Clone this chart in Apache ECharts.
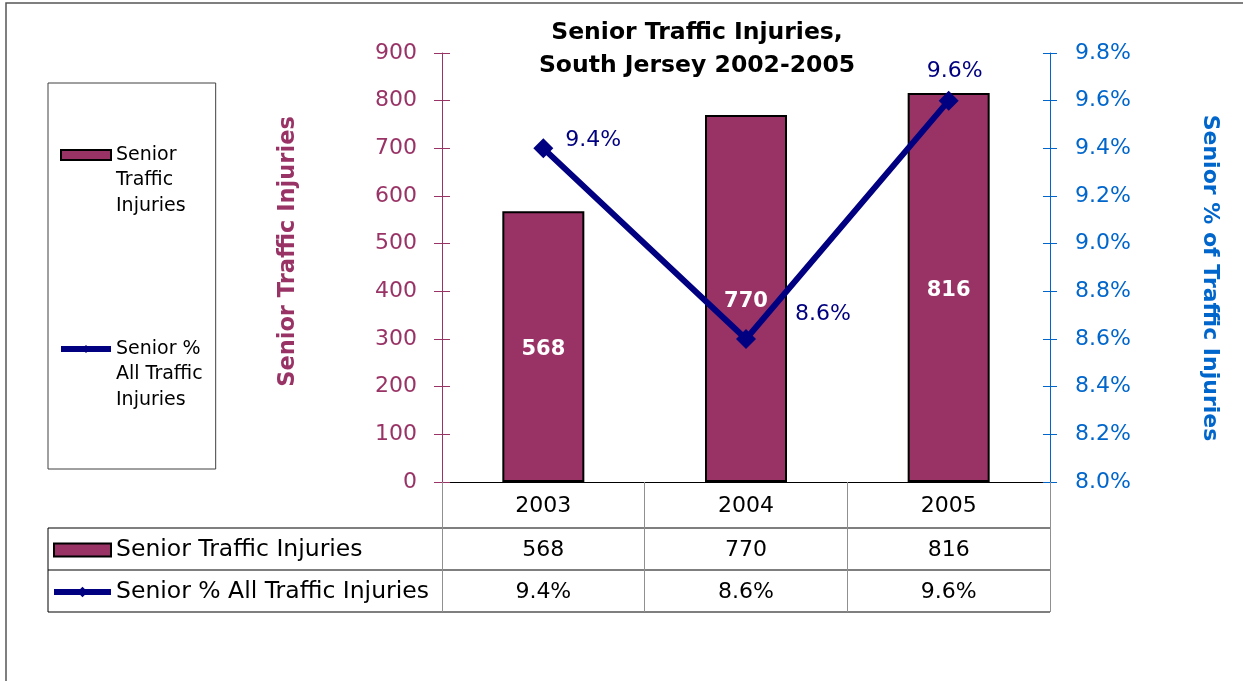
<!DOCTYPE html>
<html><head><meta charset="utf-8">
<script src="https://cdn.jsdelivr.net/npm/echarts@6/dist/echarts.min.js"></script>
<style>html,body{margin:0;padding:0;background:#fff}#c{width:1243px;height:681px}</style>
</head><body><div id="c"></div>
<script>
// ---- data ----
const categories = ['2003', '2004', '2005'];
const injuries = [568, 770, 816];
const seniorPct = [9.4, 8.6, 9.6];
const seriesNames = ['Senior Traffic Injuries', 'Senior % All Traffic Injuries'];
const legendBoxLabels = ['\n\nSenior\nTraffic\nInjuries', '\n\nSenior %\nAll Traffic\nInjuries'];
const leftAxisName = 'Senior Traffic Injuries';
const rightAxisName = 'Senior % of Traffic Injuries';
const titleText = 'Senior Traffic Injuries,\nSouth Jersey 2002-2005';

// ---- layout / style ----
const FONT = 'DejaVu Sans';
const MAROON = '#993366', BLUE = '#0066CC', NAVY = '#000080';
const G = {left: 442, top: 53, width: 608, height: 429};
const gBottom = G.top + G.height;
const tableLeft = 48, tableRight = G.left + G.width;
const rowLines = [gBottom + 46, gBottom + 88, gBottom + 130];
const pctLabelPos = ['right', 'right', 'top'];
const pctLabelOffsets = [[7, -8], [34, -25], [6, -3]];

const chart = echarts.init(document.getElementById('c'), null, {renderer: 'canvas'});

const fmtPct = v => Number(v).toFixed(1) + '%';

const graphics = [
  {type: 'rect', shape: {x: 6, y: 3, width: 1300, height: 800}, style: {fill: 'none', stroke: '#555', lineWidth: 1.5}, silent: true},
  {type: 'line', shape: {x1: tableLeft, y1: rowLines[0], x2: tableLeft, y2: rowLines[2]}, style: {stroke: '#000', lineWidth: 1}}
];
rowLines.forEach(y => graphics.push({type: 'line', shape: {x1: tableLeft, y1: y, x2: tableRight, y2: y}, style: {stroke: '#000', lineWidth: 1.2}}));

const option = {
  animation: false,
  textStyle: {fontFamily: FONT},
  title: {
    text: titleText, left: 697, top: 16, padding: 0, textAlign: 'center',
    textStyle: {fontFamily: FONT, fontWeight: 'bold', fontSize: 23.5, lineHeight: 33, color: '#000'}
  },
  legend: [
    {
      left: 48, top: 83, orient: 'vertical', padding: [8.25, 13, 56.25, 10], itemGap: 66.5,
      itemWidth: 50, itemHeight: 10, borderColor: '#404040', borderWidth: 1, selectedMode: false,
      data: [{name: seriesNames[0], icon: 'rect'}, {name: seriesNames[1]}],
      formatter: n => legendBoxLabels[seriesNames.indexOf(n)],
      textStyle: {fontFamily: FONT, fontSize: 19, lineHeight: 25.5, color: '#000'},
      lineStyle: {width: 6}
    },
    {
      left: 51, top: 538, orient: 'vertical', padding: 0, itemGap: 18,
      itemWidth: 57, itemHeight: 13, selectedMode: false,
      data: [{name: seriesNames[0], icon: 'rect'}, {name: seriesNames[1]}],
      textStyle: {fontFamily: FONT, fontSize: 23.5, lineHeight: 24, color: '#000'},
      lineStyle: {width: 6}
    }
  ],
  grid: {left: G.left, top: G.top, width: G.width, height: G.height, containLabel: false, outerBoundsMode: 'none'},
  xAxis: [
    {
      type: 'category', data: categories, position: 'bottom',
      axisLine: {lineStyle: {color: '#000', width: 1}},
      axisTick: {show: true, length: rowLines[2] - gBottom, lineStyle: {color: '#909090', width: 1}},
      axisLabel: {margin: 24, verticalAlign: 'middle', fontSize: 22, color: '#000', fontFamily: FONT},
      splitLine: {show: false}
    },
    {
      type: 'category', data: categories, position: 'bottom',
      axisLine: {show: false}, axisTick: {show: false}, splitLine: {show: false},
      axisLabel: {margin: 68, verticalAlign: 'middle', fontSize: 22, color: '#000', fontFamily: FONT,
        formatter: (v, i) => String(injuries[i])}
    },
    {
      type: 'category', data: categories, position: 'bottom',
      axisLine: {show: false}, axisTick: {show: false}, splitLine: {show: false},
      axisLabel: {margin: 110, verticalAlign: 'middle', fontSize: 22, color: '#000', fontFamily: FONT,
        formatter: (v, i) => fmtPct(seniorPct[i])}
    }
  ],
  yAxis: [
    {
      type: 'value', position: 'left', min: 0, max: 900, interval: 100,
      axisLine: {show: true, lineStyle: {color: MAROON, width: 1}},
      axisTick: {show: true, length: 8, lineStyle: {color: MAROON}},
      axisLabel: {margin: 25, fontSize: 22, color: MAROON, fontFamily: FONT},
      splitLine: {show: false},
      name: leftAxisName, nameLocation: 'middle', nameGap: 141, nameRotate: 90,
      nameTextStyle: {fontFamily: FONT, fontWeight: 'bold', fontSize: 22.5, lineHeight: 26, color: MAROON, padding: [0, 0, 0, 32]}
    },
    {
      type: 'value', position: 'right', min: 8, max: 9.8, interval: 0.2,
      axisLine: {show: true, lineStyle: {color: BLUE, width: 1}},
      axisTick: {show: true, length: 7, lineStyle: {color: BLUE}},
      axisLabel: {margin: 25, fontSize: 22, color: BLUE, fontFamily: FONT, formatter: v => fmtPct(v)},
      splitLine: {show: false},
      name: rightAxisName, nameLocation: 'middle', nameGap: 147, nameRotate: -90,
      nameTextStyle: {fontFamily: FONT, fontWeight: 'bold', fontSize: 22, lineHeight: 26, color: BLUE, padding: [0, 0, 0, 21]}
    },
    {
      type: 'value', position: 'left', min: 0, max: 900, interval: 100,
      axisLine: {show: false}, axisLabel: {show: false}, splitLine: {show: false},
      axisTick: {show: true, inside: true, length: 8, lineStyle: {color: MAROON}}
    },
    {
      type: 'value', position: 'right', min: 8, max: 9.8, interval: 0.2,
      axisLine: {show: false}, axisLabel: {show: false}, splitLine: {show: false},
      axisTick: {show: true, inside: true, length: 7, lineStyle: {color: BLUE}}
    }
  ],
  series: [
    {
      name: seriesNames[0], type: 'bar', xAxisIndex: 0, yAxisIndex: 0, data: injuries, barWidth: 82,
      itemStyle: {color: MAROON, borderColor: '#000', borderWidth: 2},
      label: {show: true, position: 'inside', offset: [0, 3], color: '#fff', fontWeight: 'bold', fontSize: 21, fontFamily: FONT}
    },
    {
      name: seriesNames[1], type: 'line', xAxisIndex: 0, yAxisIndex: 1, z: 5,
      data: seniorPct.map((v, i) => ({value: v, label: {position: pctLabelPos[i], offset: pctLabelOffsets[i]}})),
      symbol: 'diamond', symbolSize: 20,
      lineStyle: {color: NAVY, width: 6}, itemStyle: {color: NAVY},
      label: {show: true, color: NAVY, fontSize: 22, fontFamily: FONT, formatter: p => fmtPct(p.value)}
    }
  ],
  graphic: graphics
};
chart.setOption(option);
</script>
</body></html>
